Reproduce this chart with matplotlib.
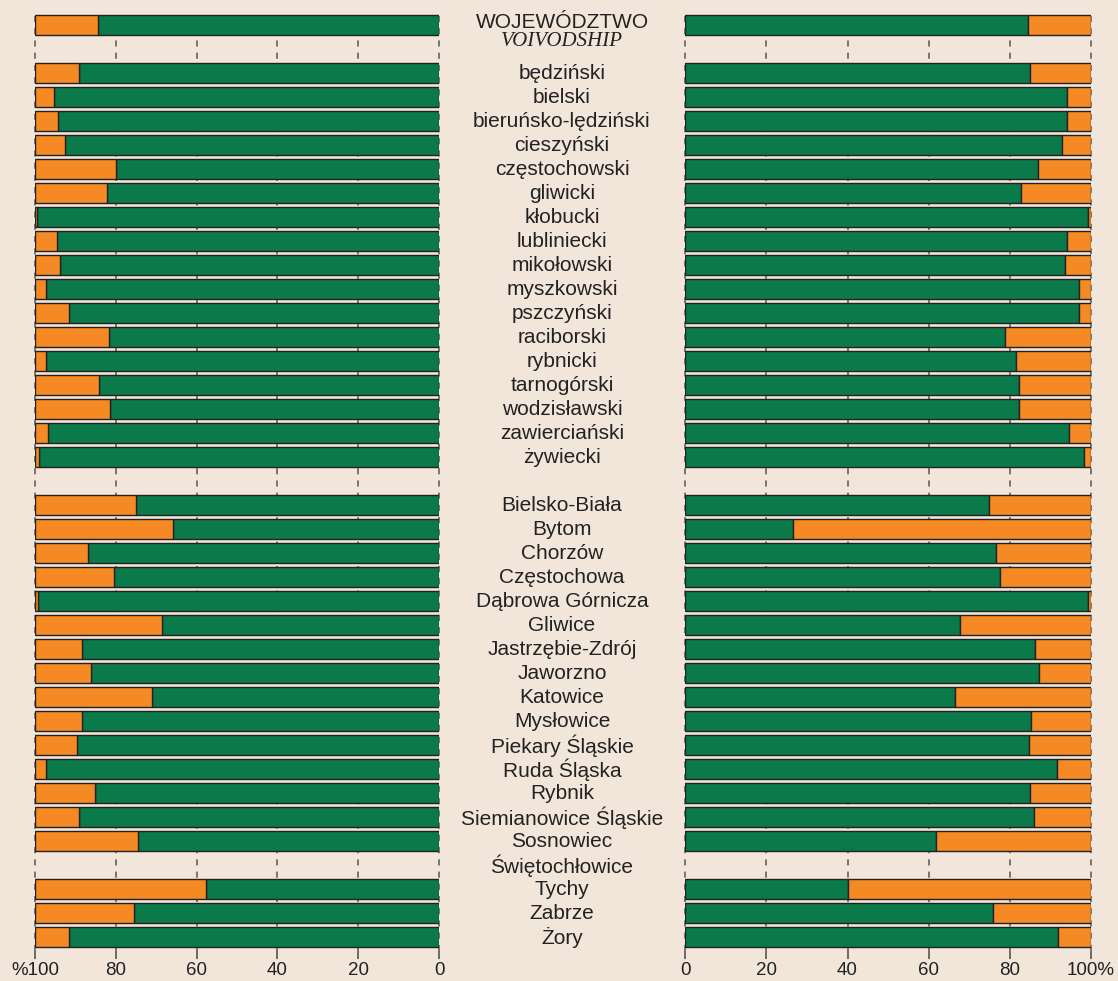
import numpy as np
import matplotlib
matplotlib.use("Agg")
import matplotlib.pyplot as plt
from matplotlib.transforms import blended_transform_factory

# --- data -------------------------------------------------------------
voivodship_label = "WOJEWÓDZTWO"
voivodship_label_en = "VOIVODSHIP"
districts = ["będziński", "bielski", "bieruńsko-lędziński", "cieszyński",
             "częstochowski", "gliwicki", "kłobucki", "lubliniecki",
             "mikołowski", "myszkowski", "pszczyński", "raciborski",
             "rybnicki", "tarnogórski", "wodzisławski", "zawierciański",
             "żywiecki"]
cities = ["Bielsko-Biała", "Bytom", "Chorzów", "Częstochowa",
          "Dąbrowa Górnicza", "Gliwice", "Jastrzębie-Zdrój", "Jaworzno",
          "Katowice", "Mysłowice", "Piekary Śląskie", "Ruda Śląska",
          "Rybnik", "Siemianowice Śląskie", "Sosnowiec", "Świętochłowice",
          "Tychy", "Zabrze", "Żory"]

# green share (%) in the left panel; the remainder is orange
left_voivodship = 84.4
left_districts = [89.1, 95.2, 94.2, 92.5, 80.0, 82.1, 99.6, 94.5, 93.8,
                  97.2, 91.5, 81.7, 97.2, 84.1, 81.4, 96.8, 98.9]
left_cities = [75.0, 65.9, 86.8, 80.4, 99.3, 68.6, 88.4, 86.1, 71.0, 88.4,
               89.5, 97.2, 85.1, 89.1, 74.4, np.nan, 57.8, 75.4, 91.5]

# green share (%) in the right panel; the remainder is orange
right_voivodship = 84.6
right_districts = [84.9, 94.0, 94.0, 93.0, 86.9, 82.9, 99.3, 94.0, 93.7,
                   97.0, 97.0, 78.9, 81.5, 82.2, 82.2, 94.5, 98.3]
right_cities = [74.9, 26.6, 76.6, 77.5, 99.3, 67.8, 86.3, 87.3, 66.5, 85.3,
                84.8, 91.7, 85.0, 86.0, 61.8, np.nan, 40.0, 75.8, 91.9]

left_ticklabels = ["%100", "80", "60", "40", "20", "0"]
right_ticklabels = ["0", "20", "40", "60", "80", "100%"]

# --- layout -----------------------------------------------------------
GREEN = "#0a7a4a"
ORANGE = "#f58a24"
BG = "#f2e6da"
EDGE = "#222222"

names = [voivodship_label] + districts + cities
pos = np.array([0] + list(range(2, 2 + len(districts)))
               + list(range(20, 20 + len(cities))), dtype=float)
left_vals = np.array([left_voivodship] + left_districts + left_cities)
right_vals = np.array([right_voivodship] + right_districts + right_cities)

plt.rcParams["font.family"] = ["Liberation Sans", "DejaVu Sans"]

fig = plt.figure(figsize=(11.18, 9.81), dpi=100, facecolor=BG)
bottom, top = 0.031, 0.989
ax_l = fig.add_axes([0.0313, bottom, 0.3614, top - bottom])
ax_r = fig.add_axes([0.6130, bottom, 0.3627, top - bottom])

bar_h = 0.83
for ax, vals, ticklabels, xl in [(ax_l, left_vals, left_ticklabels, (100, 0)),
                                  (ax_r, right_vals, right_ticklabels, (0, 100))]:
    ax.set_facecolor(BG)
    ok = ~np.isnan(vals)
    ax.barh(pos[ok], vals[ok], left=0, height=bar_h, color=GREEN,
            edgecolor=EDGE, linewidth=1.0, zorder=3)
    ax.barh(pos[ok], 100 - vals[ok], left=vals[ok], height=bar_h,
            color=ORANGE, edgecolor=EDGE, linewidth=1.0, zorder=3)
    ax.set_xlim(*xl)
    ax.set_ylim(38.55, -0.6)
    for s in ax.spines.values():
        s.set_visible(False)
    ticks = [100, 80, 60, 40, 20, 0] if xl[0] == 100 else [0, 20, 40, 60, 80, 100]
    ax.set_xticks(ticks)
    ax.set_xticklabels(ticklabels, fontsize=13.5, color="#222222")
    ax.set_yticks([])
    ax.tick_params(axis="x", direction="out", length=6, width=1.2,
                   color="#555555", pad=2)
    for t in ticks:
        ax.axvline(t, color="#555555", linestyle=(0, (4, 4)), linewidth=1.1,
                   zorder=1, clip_on=False)

# category names down the middle
trans = blended_transform_factory(fig.transFigure, ax_l.transData)
xc = 562 / 1118
for i, (name, p) in enumerate(zip(names, pos)):
    if i == 0:
        fig.text(xc, p - 0.1, name, transform=trans, ha="center",
                 va="center", fontsize=15, color="#222222")
        fig.text(xc, p + 0.7, voivodship_label_en, transform=trans,
                 ha="center", va="center", fontsize=15, style="italic",
                 family=["Liberation Serif", "DejaVu Serif"], color="#222222")
    else:
        fig.text(xc, p, name, transform=trans, ha="center", va="center",
                 fontsize=15, color="#222222")

fig.savefig("out.png", dpi=100, facecolor=BG)
